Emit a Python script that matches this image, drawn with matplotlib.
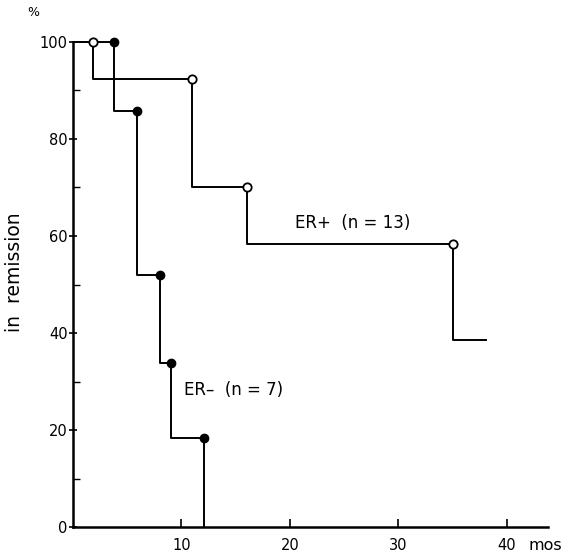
import matplotlib
matplotlib.use("Agg")
import matplotlib.pyplot as plt
from matplotlib.ticker import MultipleLocator

# Remission curves (months, % in remission)
er_pos_x = [0, 1.85, 11.0, 16.0, 35.0, 38.1]
er_pos_y = [100, 92.3, 70.0, 58.4, 38.6, 38.6]
er_pos_marks_x = [1.85, 11.0, 16.0, 35.0]
er_pos_marks_y = [100, 92.3, 70.0, 58.4]

er_neg_x = [0, 3.8, 5.9, 8.0, 9.0, 12.1, 12.1]
er_neg_y = [100, 85.7, 52.0, 33.8, 18.4, 0, 0]
er_neg_marks_x = [3.8, 5.9, 8.0, 9.0, 12.1]
er_neg_marks_y = [100, 85.7, 52.0, 33.8, 18.4]

x_ticks = [10, 20, 30, 40]
y_ticks = [0, 20, 40, 60, 80, 100]

plt.rcParams["font.family"] = ["DejaVu Sans"]

fig = plt.figure(figsize=(5.77, 5.55), dpi=100)
ax = fig.add_axes([73 / 577, 1 - 527 / 555, (548 - 73) / 577, (527 - 42) / 555])

ax.step(er_pos_x, er_pos_y, where="post", color="black", lw=1.4, clip_on=False)
ax.step(er_neg_x, er_neg_y, where="post", color="black", lw=1.4, clip_on=False)
ax.plot(er_pos_marks_x, er_pos_marks_y, "o", ms=6, mfc="white", mec="black",
        mew=1.3, clip_on=False, zorder=5)
ax.plot(er_neg_marks_x, er_neg_marks_y, "o", ms=6, mfc="black", mec="black",
        clip_on=False, zorder=5)

ax.set_xlim(0, 43.8)
ax.set_ylim(0, 100)
ax.spines["top"].set_visible(False)
ax.spines["right"].set_visible(False)
for s in ("left", "bottom"):
    ax.spines[s].set_linewidth(1.8)

ax.set_xticks(x_ticks)
ax.set_yticks(y_ticks)
ax.yaxis.set_minor_locator(MultipleLocator(10))
ax.tick_params(axis="x", direction="in", length=6, width=1.2, labelsize=10.5, pad=8)
ax.tick_params(axis="y", which="major", direction="inout", length=6, width=1.2,
               labelsize=10.5, pad=1)
ax.tick_params(axis="y", which="minor", direction="in", length=5, width=1.0)

fig.text(33 / 577, 1 - 12 / 555, "%", fontsize=9, ha="center", va="center")
fig.text(528 / 577, 1 - 546 / 555, "mos", fontsize=11.5, ha="left", va="center")
fig.text(15 / 577, 1 - 272 / 555, "in  remission", rotation=90, fontsize=13.5,
         ha="center", va="center")

ax.text(25.8, 62.7, "ER+  (n = 13)", fontsize=12, ha="center", va="center")
ax.text(14.8, 28.2, "ER\u2013  (n = 7)", fontsize=12, ha="center", va="center")

fig.savefig("out.png", dpi=100)
